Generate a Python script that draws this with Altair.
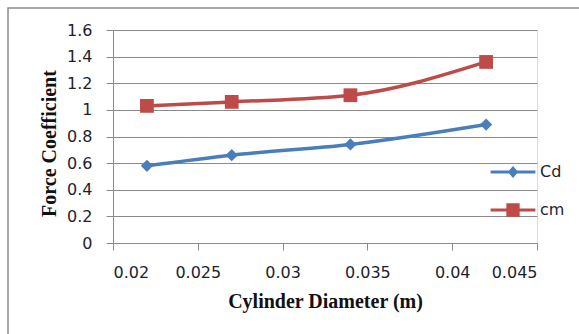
import altair as alt
import pandas as pd

diameters = [0.022, 0.027, 0.034, 0.042]
cd_values = [0.58, 0.66, 0.74, 0.89]
cm_values = [1.03, 1.06, 1.11, 1.36]
series_names = ["Cd", "cm"]
series_colors = ["#4A7EBB", "#BE4B48"]
x_ticks = [0.02, 0.025, 0.03, 0.035, 0.04, 0.045]
y_ticks = [0, 0.2, 0.4, 0.6, 0.8, 1.0, 1.2, 1.4, 1.6]

rows = []
for d, v in zip(diameters, cd_values):
    rows.append({"D": d, "F": v, "S": "Cd"})
for d, v in zip(diameters, cm_values):
    rows.append({"D": d, "F": v, "S": "cm"})
df = pd.DataFrame(rows)

AX = "#8A8A8A"
LBL = "#1E1E2E"
LFONT = "DejaVu Sans"

x_enc = alt.X("D:Q", scale=alt.Scale(domain=[0.02, 0.045], nice=False, zero=False),
              axis=alt.Axis(values=x_ticks, format="~g", grid=False, domainColor=AX,
                            tickColor=AX, tickSize=7, labelPadding=14, labelFont=LFONT,
                            labelFontSize=16, labelColor=LBL, labelOverlap=False,
                            title="Cylinder Diameter (m)", titleFont="Liberation Serif",
                            titleFontSize=20, titleFontWeight="bold", titleColor="#111111",
                            titleBaseline="alphabetic", titleY=64))
y_enc = alt.Y("F:Q", scale=alt.Scale(domain=[0, 1.6], nice=False),
              axis=alt.Axis(values=y_ticks, format="~g", grid=True, gridColor=AX,
                            domainColor=AX, tickColor=AX, tickSize=7, labelPadding=14,
                            labelFont=LFONT, labelFontSize=16, labelColor=LBL,
                            labelOverlap=False, labelFlush=False,
                            title="Force Coefficient", titleFont="Liberation Serif",
                            titleFontSize=20, titleFontWeight="bold", titleColor="#111111",
                            titleAngle=270, titleBaseline="middle", titleAlign="center",
                            titleX=-64, titleY=113))

lines = alt.Chart(df).mark_line(interpolate="monotone", strokeWidth=3.5).encode(
    x=x_enc, y=y_enc,
    stroke=alt.Stroke("S:N", scale=alt.Scale(domain=series_names, range=series_colors), legend=None),
)

points = alt.Chart(df).mark_point(filled=True, opacity=1).encode(
    x=x_enc, y=y_enc,
    fill=alt.Fill("S:N", scale=alt.Scale(domain=series_names, range=series_colors), legend=None),
    shape=alt.Shape("S:N", scale=alt.Scale(domain=series_names, range=["diamond", "square"]), legend=None),
    size=alt.Size("S:N", scale=alt.Scale(domain=series_names, range=[150, 190]), legend=None),
)

legend_paths = [
    "M-3.2,-0.22H3.2V0.22H-3.2Z M-0.75,0L0,-0.86L0.75,0L0,0.86Z",
    "M-3.2,-0.22H3.2V0.22H-3.2Z M-0.95,-0.95H0.95V0.95H-0.95Z",
]
legend_tops = [134, 172]


def legend_layer(i):
    name = series_names[i]
    lg = alt.Legend(
        title=None, orient="none", legendX=392, legendY=legend_tops[i], padding=0,
        symbolSize=196, symbolStrokeWidth=0, symbolOpacity=1, symbolFillColor=series_colors[i],
        labelOffset=19, labelFont=LFONT, labelFontSize=16, labelColor=LBL,
    )
    return alt.Chart(df).transform_filter("datum.F < -100").mark_point(
        filled=True, opacity=1, color=series_colors[i]
    ).encode(
        x=x_enc, y=y_enc,
        shape=alt.Shape("S:N", scale=alt.Scale(domain=[name], range=[legend_paths[i]]), legend=lg),
    )


border = alt.Chart(pd.DataFrame({"b": [0]})).mark_rect(
    fill="transparent", stroke="#8C8C8C", strokeWidth=1.5
).encode(x=alt.value(-105), x2=alt.value(700), y=alt.value(-22), y2=alt.value(500))

chart = alt.layer(border, lines, points, legend_layer(0), legend_layer(1)).resolve_scale(
    shape="independent", size="independent"
).properties(
    width=424, height=213,
    padding={"left": 113, "top": 30, "right": 42, "bottom": 91},
    autosize=alt.AutoSizeParams(type="none"),
).configure_view(stroke=None).configure(background="white")

chart.save("out.html", embed_options={"renderer": "svg", "actions": False})
